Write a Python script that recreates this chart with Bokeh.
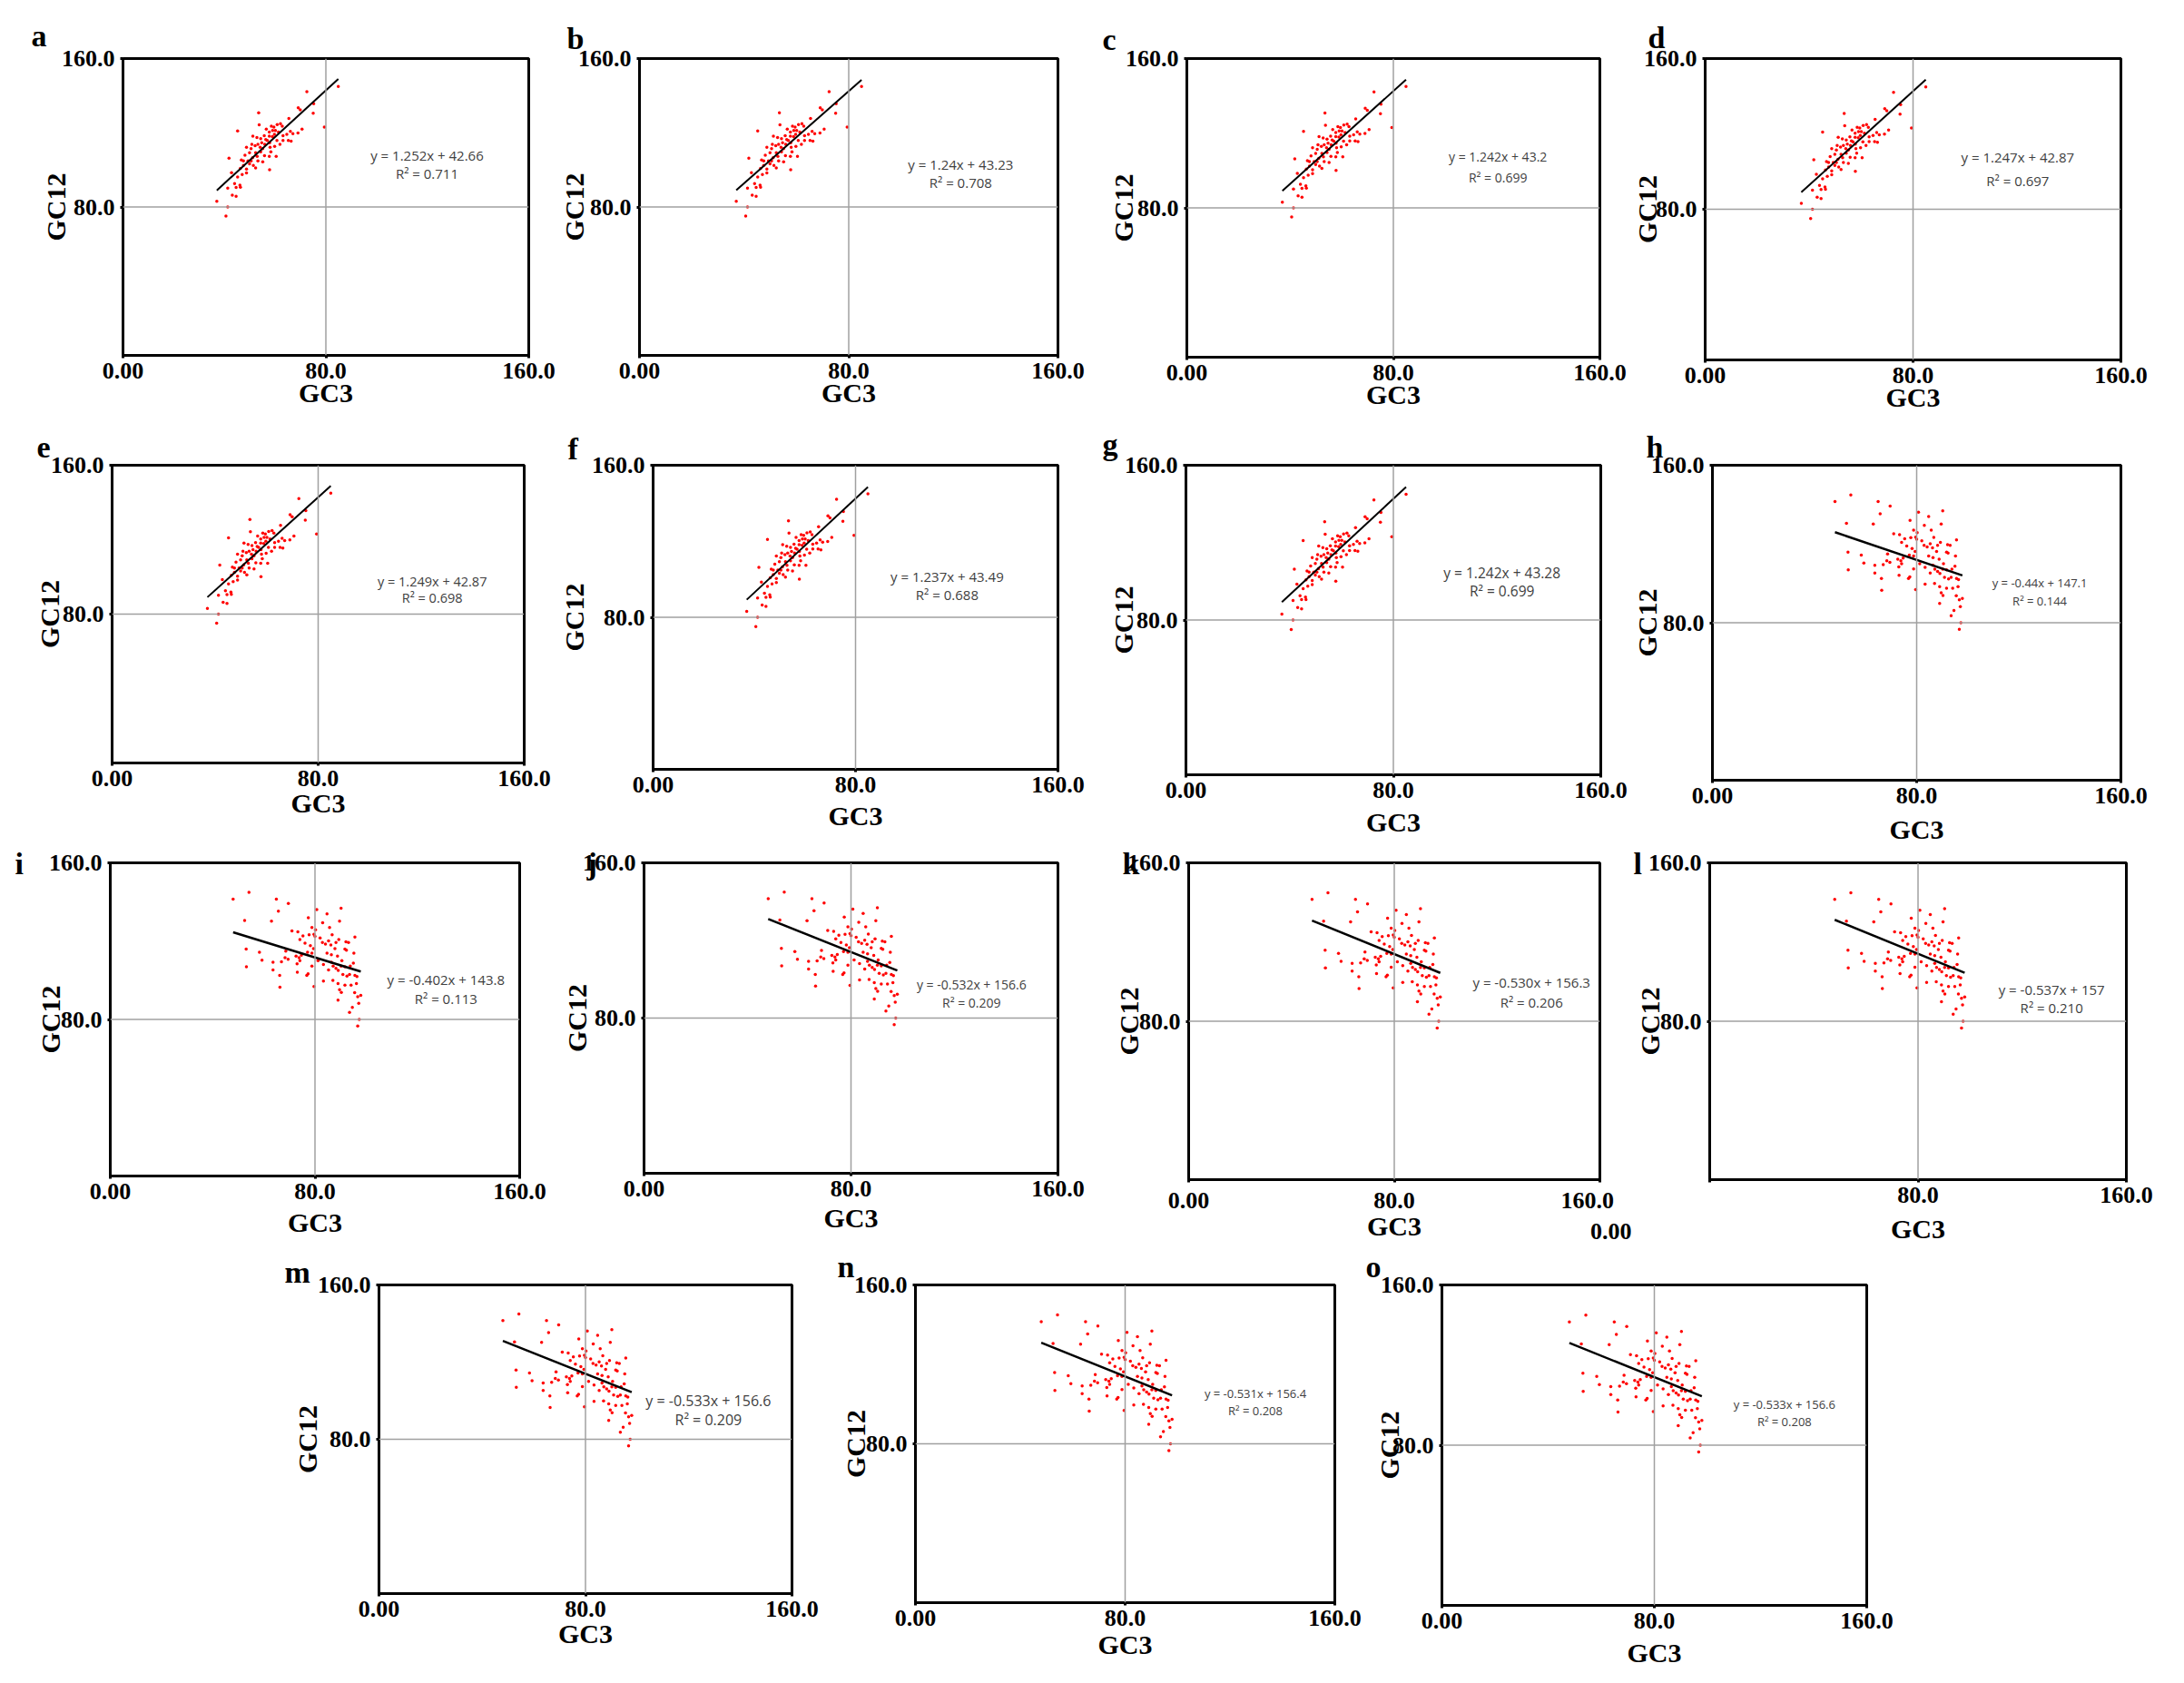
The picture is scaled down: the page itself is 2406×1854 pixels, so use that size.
from bokeh.plotting import figure
from bokeh.layouts import column, row, Spacer
from bokeh.models import Range1d, FixedTicker, Span, Label
from bokeh.embed import file_html
from bokeh.resources import INLINE

# ---------------- data ----------------
# panels a-g share the positively correlated cloud
pos_gc3 = [84.9, 72.5, 69.1, 69.9, 75.2, 53.5, 75.0, 79.4, 65.4, 62.1, 60.8, 62.8, 59.5, 59.0, 58.5,
           45.2, 53.7, 70.6, 69.0, 66.0, 67.0, 64.6, 63.1, 59.7, 57.7, 55.7, 56.3, 54.3, 52.8, 51.2,
           57.8, 60.7, 63.1, 65.2, 66.3, 59.8, 55.9, 53.2, 50.8, 48.7, 55.1, 54.3, 52.3, 49.9, 48.1,
           55.8, 57.7, 60.4, 41.8, 46.7, 50.5, 53.2, 55.1, 51.4, 47.5, 48.7, 52.3, 46.3, 57.8, 42.8,
           45.2, 44.0, 46.1, 44.6, 46.3, 41.3, 43.1, 44.6, 37.0, 41.3, 40.6, 56.5, 57.7, 60.1, 61.3,
           58.9, 56.9, 54.7, 52.1, 54.1, 50.5, 52.9, 51.1, 49.3, 49.9, 47.5, 48.7, 47.0, 58.0, 61.9, 58.3]
pos_gc12 = [145.0, 142.1, 133.4, 132.3, 135.6, 130.8, 130.5, 123.1, 127.7, 124.9, 124.4, 123.5, 123.1, 121.2, 123.5,
            121.0, 124.3, 122.0, 119.9, 120.7, 119.5, 119.1, 118.4, 119.1, 118.2, 118.4, 116.3, 116.8, 117.4, 118.2,
            114.6, 115.8, 115.9, 115.9, 115.5, 112.7, 113.8, 113.8, 113.8, 112.2, 111.4, 109.7, 109.2, 109.2, 107.9,
            107.6, 107.3, 107.3, 106.3, 105.3, 104.8, 104.8, 104.3, 102.4, 102.4, 100.4, 101.1, 100.8, 100.1, 98.5,
            96.2, 92.6, 91.8, 90.5, 90.6, 90.1, 86.4, 85.7, 83.1, 80.0, 75.1, 122.0, 120.4, 121.2, 120.4,
            117.9, 115.8, 114.6, 113.0, 112.2, 111.4, 107.3, 106.5, 104.8, 103.2, 104.8, 98.3, 97.5, 112.2, 113.8, 109.7]

# panels h-o share the negatively correlated cloud
neg_gc3 = [48.0, 54.2, 64.9, 69.6, 65.7, 52.5, 63.0, 77.4, 80.7, 84.7, 90.2, 83.0, 85.7, 89.6, 78.8,
           80.2, 79.6, 80.0, 77.7, 75.3, 74.1, 71.0, 73.3, 76.1, 82.9, 85.3, 86.7, 88.2, 89.3, 92.1,
           93.1, 95.6, 91.7, 92.3, 95.2, 87.8, 86.2, 84.1, 82.0, 53.1, 58.3, 59.3, 68.6, 68.3, 69.5,
           72.6, 73.8, 74.7, 77.1, 78.8, 63.6, 66.9, 53.2, 63.6, 73.0, 74.1, 77.3, 76.8, 66.2, 66.3,
           73.1, 78.8, 83.3, 86.4, 88.2, 90.2, 91.7, 93.8, 95.0, 87.1, 89.1, 90.9, 92.5, 93.5, 95.6,
           96.4, 83.3, 87.0, 89.0, 91.7, 94.1, 96.2, 79.6, 89.6, 90.3, 95.5, 96.7, 97.9, 89.0, 97.1,
           94.6, 93.5, 97.3, 96.7, 86.4, 88.8, 90.5, 85.3, 81.2, 84.7, 78.2, 79.4]
neg_gc12 = [141.5, 144.9, 141.5, 139.3, 135.3, 130.5, 130.2, 132.0, 136.1, 133.9, 136.8, 129.4, 127.0, 130.2, 127.0,
            125.8, 123.5, 122.4, 123.2, 122.7, 120.8, 125.2, 124.7, 119.0, 119.3, 120.1, 123.3, 119.3, 120.8, 119.6,
            119.3, 122.1, 115.9, 115.4, 113.9, 116.2, 118.0, 118.5, 121.6, 115.9, 114.3, 110.3, 114.9, 111.5, 110.7,
            112.3, 111.5, 112.8, 114.3, 113.9, 109.2, 109.5, 106.9, 105.3, 108.4, 110.0, 103.3, 102.5, 102.5, 96.5,
            104.1, 107.3, 108.1, 109.2, 106.1, 107.2, 106.9, 107.2, 108.7, 107.2, 105.0, 103.0, 102.2, 103.0, 102.5,
            101.9, 99.6, 99.9, 98.3, 97.5, 97.5, 98.3, 96.8, 95.2, 93.8, 93.7, 91.6, 92.3, 89.8, 88.2,
            86.2, 83.6, 80.0, 76.6, 113.1, 112.3, 110.0, 105.3, 110.0, 113.9, 117.7, 116.2]

panel_ids = ["a", "b", "c", "d", "e", "f", "g", "h", "i", "j", "k", "l", "m", "n", "o"]
cloud = ["pos"] * 7 + ["neg"] * 8
slopes = [1.252, 1.24, 1.242, 1.247, 1.249, 1.237, 1.242,
          -0.44, -0.402, -0.532, -0.530, -0.537, -0.533, -0.531, -0.533]
intercepts = [42.66, 43.23, 43.2, 42.87, 42.87, 43.49, 43.28,
              147.1, 143.8, 156.6, 156.3, 157.0, 156.6, 156.4, 156.6]
eq_texts = ["y = 1.252x + 42.66", "y = 1.24x + 43.23", "y = 1.242x + 43.2", "y = 1.247x + 42.87",
            "y = 1.249x + 42.87", "y = 1.237x + 43.49", "y = 1.242x + 43.28", "y = -0.44x + 147.1",
            "y = -0.402x + 143.8", "y = -0.532x + 156.6", "y = -0.530x + 156.3", "y = -0.537x + 157",
            "y = -0.533x + 156.6", "y = -0.531x + 156.4", "y = -0.533x + 156.6"]
r2_texts = ["R² = 0.711", "R² = 0.708", "R² = 0.699", "R² = 0.697", "R² = 0.698", "R² = 0.688",
            "R² = 0.699", "R² = 0.144", "R² = 0.113", "R² = 0.209", "R² = 0.206", "R² = 0.210",
            "R² = 0.209", "R² = 0.208", "R² = 0.208"]
x_ticks = [0, 80, 160]
x_tick_labels = ["0.00", "80.0", "160.0"]
y_ticks = [80, 160]
y_tick_labels = ["80.0", "160.0"]

# ---------------- layout (page pixels, origin at top-left) ----------------
# per row: canvas top, top border (frame top = top + border), bottom border
ROWS = [(0, 64, 60), (456, 56, 71), (932, 18, 71), (1372, 43, 80)]
# canvas x0, x1, frame x0, x1, frame bottom, row
GEOM = [
    (0, 612, 135, 582, 391, 0), (612, 1205, 703, 1165, 391, 0),
    (1205, 1794, 1307, 1762, 393, 0), (1794, 2400, 1872, 2336, 396, 0),
    (0, 612, 123, 577, 842, 1), (612, 1205, 717, 1165, 849, 1),
    (1205, 1794, 1306, 1763, 855, 1), (1794, 2400, 1880, 2336, 861, 1),
    (0, 612, 121, 572, 1297, 2), (612, 1205, 709, 1165, 1294, 2),
    (1205, 1797, 1309, 1762, 1301, 2), (1797, 2400, 1880, 2342, 1301, 2),
    (290, 915, 417, 872, 1755, 3), (915, 1502, 1008, 1470, 1765, 3),
    (1502, 2100, 1588, 2056, 1768, 3),
]
LETTER_OFFSET = [-101, -80, -93, -63, -83, -94, -92, -73, -105, -63, -73, -84, -104, -86, -84]
LETTER_STANDOFF = [13, 8, 6, 10, 17, 0, 9, 4, -39, -39, -39, -39, -8, 4, 4]
EQ_POS = [(119.9, 107.7, 97.9), (122.8, 102.9, 93.1), (120.5, 107.4, 96.2), (120.3, 107.6, 95.1),
          (124.3, 97.5, 88.6), (116.2, 101.4, 91.9), (121.9, 104.3, 94.8), (128.2, 100.4, 91.2),
          (131.2, 100.5, 90.6), (126.6, 97.1, 87.9), (133.4, 99.9, 89.4), (131.3, 96.1, 87.0),
          (127.6, 100.2, 90.1), (129.7, 105.3, 96.8), (129.0, 100.2, 91.8)]
EQ_SIZE = [15, 15, 14, 15, 14.5, 15, 15.5, 13, 15, 14, 15, 15, 16, 13, 13]
YLAB_STANDOFF = [-13, -15, -17, -23, -18, 0, -18, -15, -21, -13, -21, -21, -8, -21, -29]
XLAB_STANDOFF = [-4, -4, -4, -4, -1, 6, 7, 9, 6, 4, -40, 9, -1, 1, 7]

SERIF = "Liberation Serif"
EQ_FONT = "Open Sans"


def make_panel(i):
    cx0, cx1, fx0, fx1, fy1, r = GEOM[i]
    top, tb, bb = ROWS[r]
    p = figure(width=cx1 - cx0, height=fy1 - top + bb,
               x_range=Range1d(0, 160), y_range=Range1d(0, 160),
               output_backend="svg", toolbar_location=None,
               min_border_left=fx0 - cx0, min_border_right=cx1 - fx1,
               min_border_top=tb, min_border_bottom=bb,
               background_fill_color="white", border_fill_color="white")
    p.xgrid.visible = False
    p.ygrid.visible = False
    p.outline_line_color = "black"
    p.outline_line_width = 3
    p.outline_line_alpha = 1.0

    for ax in (p.xaxis[0], p.yaxis[0]):
        ax.axis_line_width = 3
        ax.axis_line_color = "black"
        ax.major_tick_line_width = 3
        ax.major_tick_line_color = "black"
        ax.major_tick_out = 3
        ax.major_tick_in = 0
        ax.minor_tick_line_color = None
        ax.major_label_text_font = SERIF
        ax.major_label_text_font_style = "bold"
        ax.major_label_text_font_size = "26px"
        ax.major_label_text_color = "black"
        ax.axis_label_text_font = SERIF
        ax.axis_label_text_font_style = "bold"
        ax.axis_label_text_font_size = "30px"
        ax.axis_label_text_color = "black"
    p.xaxis.major_label_standoff = 5
    p.yaxis.major_label_standoff = 6

    p.xaxis.ticker = FixedTicker(ticks=x_ticks)
    xl = dict(zip(x_ticks, x_tick_labels))
    if panel_ids[i] == "l":
        xl[0] = ""          # panel l's "0.00" is displaced, it is drawn under panel k's "160.0"
    if panel_ids[i] == "k":
        xl[160] = "160.0\n\u2007\u2007\u2007\u20070.00"
    p.xaxis.major_label_overrides = xl
    p.yaxis.ticker = FixedTicker(ticks=y_ticks)
    p.yaxis.major_label_overrides = dict(zip(y_ticks, y_tick_labels))
    p.xaxis.axis_label = "GC3"
    p.yaxis.axis_label = "GC12"
    p.xaxis.axis_label_standoff = XLAB_STANDOFF[i]
    p.yaxis.axis_label_standoff = YLAB_STANDOFF[i]

    # panel letter as the figure title
    p.title.text = panel_ids[i]
    p.title.align = "left"
    p.title.offset = LETTER_OFFSET[i]
    p.title.standoff = LETTER_STANDOFF[i]
    p.title.text_font = SERIF
    p.title.text_font_style = "bold"
    p.title.text_font_size = "34px"
    p.title.text_color = "black"

    # crossing lines at 80
    p.add_layout(Span(location=80, dimension="height", line_color="#a0a0a0", line_width=1.5))
    p.add_layout(Span(location=80, dimension="width", line_color="#a0a0a0", line_width=1.5))

    if cloud[i] == "pos":
        gx, gy = pos_gc3, pos_gc12
    else:
        gx, gy = neg_gc3, neg_gc12
    p.scatter(gx, gy, size=3.5, color="#ff0000", line_width=0)

    x_lo, x_hi = min(gx), max(gx)
    p.line([x_lo, x_hi], [slopes[i] * x_lo + intercepts[i], slopes[i] * x_hi + intercepts[i]],
           line_color="black", line_width=2 if cloud[i] == "pos" else 2.5)

    ex, ey1, ey2 = EQ_POS[i]
    for txt, yy in ((eq_texts[i], ey1), (r2_texts[i], ey2)):
        p.add_layout(Label(x=ex, y=yy, text=txt, text_font=EQ_FONT,
                           text_font_size=f"{EQ_SIZE[i]}px", text_color="#404040",
                           text_align="center", text_baseline="middle"))
    return p


panels = [make_panel(i) for i in range(15)]

layout = column(
    row(*panels[0:4]),
    row(*panels[4:8]),
    row(*panels[8:12]),
    row(Spacer(width=290, height=10), *panels[12:15]),
)

open("out.html", "w").write(file_html(layout, INLINE))
